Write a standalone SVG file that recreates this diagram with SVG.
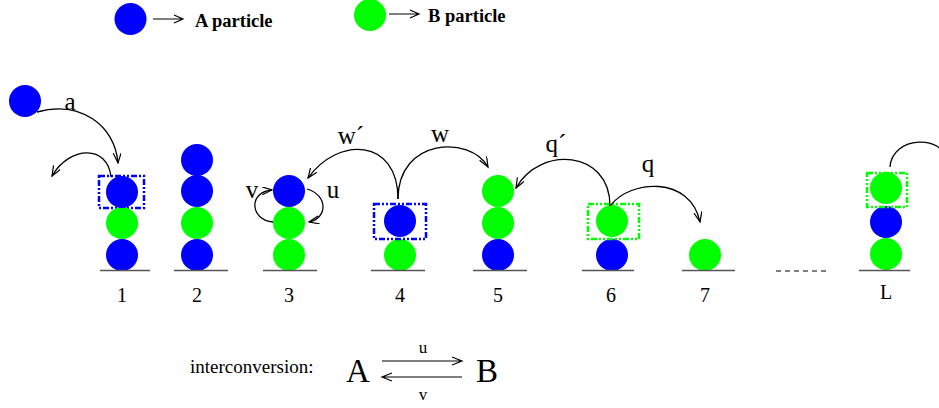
<svg xmlns="http://www.w3.org/2000/svg" width="939" height="408" viewBox="0 0 939 408">
<style>
.A{fill:#0000ff}
.B{fill:#00ff00}
.g{stroke:#555;stroke-width:1.5}
.arc{fill:none;stroke:#000;stroke-width:1.3;marker-end:url(#ah)}
.arcn{fill:none;stroke:#000;stroke-width:1.3}
.lbl{font-family:"Liberation Serif",serif;font-size:25px;fill:#000;text-anchor:middle}
.num{font-family:"Liberation Serif",serif;font-size:20px;fill:#000;text-anchor:middle}
.leg{font-family:"Liberation Serif",serif;font-size:18.5px;font-weight:bold;fill:#000}
.bA{fill:none;stroke:#0000ff;stroke-width:2.5;stroke-dasharray:6 2 2 2 2 2}
.bB{fill:none;stroke:#00ff00;stroke-width:2.5;stroke-dasharray:6 2 2 2 2 2}
.ln{stroke:#000;stroke-width:1.2;fill:none}
</style>
<defs>
<marker id="ah" markerWidth="12" markerHeight="10" refX="10" refY="4" orient="auto" markerUnits="userSpaceOnUse"><path d="M0,0 L10,4 L0,8" fill="none" stroke="#000" stroke-width="1.2"/></marker>
</defs>
<rect width="939" height="408" fill="#fff"/>

<g id="legend">
<circle class="A" cx="130.5" cy="19" r="16"/>
<path class="ln" d="M153,19 H183 M174,15 L183,19 L174,23"/>
<text class="leg" x="195" y="27">A particle</text>
<circle class="B" cx="370" cy="15" r="16"/>
<path class="ln" d="M389,14 H419 M410,10 L419,14 L410,18"/>
<text class="leg" x="428" y="22">B particle</text>
</g>

<g id="incoming">
<circle class="A" cx="25" cy="101" r="16"/>
</g>

<g id="stack1">
<rect class="bA" x="99" y="176" width="45" height="32"/>
<circle class="A" cx="122" cy="255" r="16"/>
<circle class="B" cx="122" cy="223" r="16"/>
<circle class="A" cx="122" cy="192" r="16"/>
<line class="g" x1="100" y1="270.5" x2="150" y2="270.5"/>
<text class="num" x="122" y="302">1</text>
</g>

<g id="stack2">
<circle class="A" cx="197" cy="255" r="16"/>
<circle class="B" cx="197" cy="223" r="16"/>
<circle class="A" cx="197" cy="191" r="16"/>
<circle class="A" cx="197" cy="160" r="16"/>
<line class="g" x1="174" y1="270.5" x2="228" y2="270.5"/>
<text class="num" x="197" y="302">2</text>
</g>

<g id="stack3">
<circle class="B" cx="289" cy="255" r="16"/>
<circle class="B" cx="289" cy="223" r="16"/>
<circle class="A" cx="289" cy="191" r="16"/>
<line class="g" x1="263" y1="270.5" x2="317" y2="270.5"/>
<text class="num" x="289" y="302">3</text>
</g>

<g id="stack4">
<circle class="B" cx="400" cy="255" r="16"/>
<circle class="A" cx="400" cy="221" r="16"/>
<rect class="bA" x="374" y="204" width="52" height="35"/>
<line class="g" x1="371" y1="270.5" x2="425" y2="270.5"/>
<text class="num" x="400" y="302">4</text>
</g>

<g id="stack5">
<circle class="A" cx="498" cy="255" r="16"/>
<circle class="B" cx="498" cy="223" r="16"/>
<circle class="B" cx="498" cy="191" r="16"/>
<line class="g" x1="473" y1="270.5" x2="527" y2="270.5"/>
<text class="num" x="498" y="302">5</text>
</g>

<g id="stack6">
<circle class="A" cx="612" cy="255" r="16"/>
<circle class="B" cx="612" cy="221" r="16"/>
<rect class="bB" x="588" y="204" width="51" height="35"/>
<line class="g" x1="582" y1="270.5" x2="634" y2="270.5"/>
<text class="num" x="611" y="302">6</text>
</g>

<g id="stack7">
<circle class="B" cx="705" cy="255" r="16"/>
<line class="g" x1="682" y1="270.5" x2="735" y2="270.5"/>
<text class="num" x="705" y="302">7</text>
</g>

<g id="dots">
<line class="g" x1="776" y1="271" x2="828" y2="271" stroke-dasharray="5 4" stroke-width="1.2"/>
</g>

<g id="stackL">
<circle class="B" cx="886" cy="254" r="16"/>
<circle class="A" cx="886" cy="222" r="16"/>
<circle class="B" cx="886" cy="188" r="16"/>
<rect class="bB" x="867" y="173" width="40" height="34"/>
<line class="g" x1="859" y1="270.5" x2="910" y2="270.5"/>
<text class="num" x="886" y="299">L</text>
</g>

<g id="connectors">
<path class="arc" d="M37,112 C80,100 115,125 118,163"/>
<path class="arc" d="M111,177 C108,145 70,145 52,176"/>
<path class="arc" d="M273,222 C250,220 248,192 272,190"/>
<path class="arc" d="M307,189 C328,195 328,218 309,222"/>
<path class="arc" d="M398,199 C398,138 338,136 308,178"/>
<path class="arc" d="M398,199 C398,138 470,135 488,167"/>
<path class="arc" d="M610,206 C610,150 540,145 516,188"/>
<path class="arc" d="M611,205 C630,180 690,175 700,222"/>
<path class="arcn" d="M890,167 C892,135 945,135 945,160"/>
</g>

<g id="labels">
<text class="lbl" x="70" y="110">a</text>
<text class="lbl" x="252" y="198">v</text>
<text class="lbl" x="333" y="198">u</text>
<text class="lbl" x="351" y="144">w´</text>
<text class="lbl" x="440" y="142">w</text>
<text class="lbl" x="556" y="152">q´</text>
<text class="lbl" x="648" y="172">q</text>
</g>

<g id="interconversion">
<text x="190" y="373" font-family="Liberation Serif, serif" font-size="19">interconversion:</text>
<text x="346" y="382" font-family="Liberation Serif, serif" font-size="33">A</text>
<text x="476" y="382" font-family="Liberation Serif, serif" font-size="33">B</text>
<path class="ln" d="M382,361 H462 M452,357 L462,361 L452,365"/>
<path class="ln" d="M462,377 H382 M392,373 L382,377 L392,381"/>
<text x="423" y="353" font-family="Liberation Serif, serif" font-size="17" text-anchor="middle">u</text>
<text x="423" y="400" font-family="Liberation Serif, serif" font-size="17" text-anchor="middle">v</text>
</g>
</svg>
